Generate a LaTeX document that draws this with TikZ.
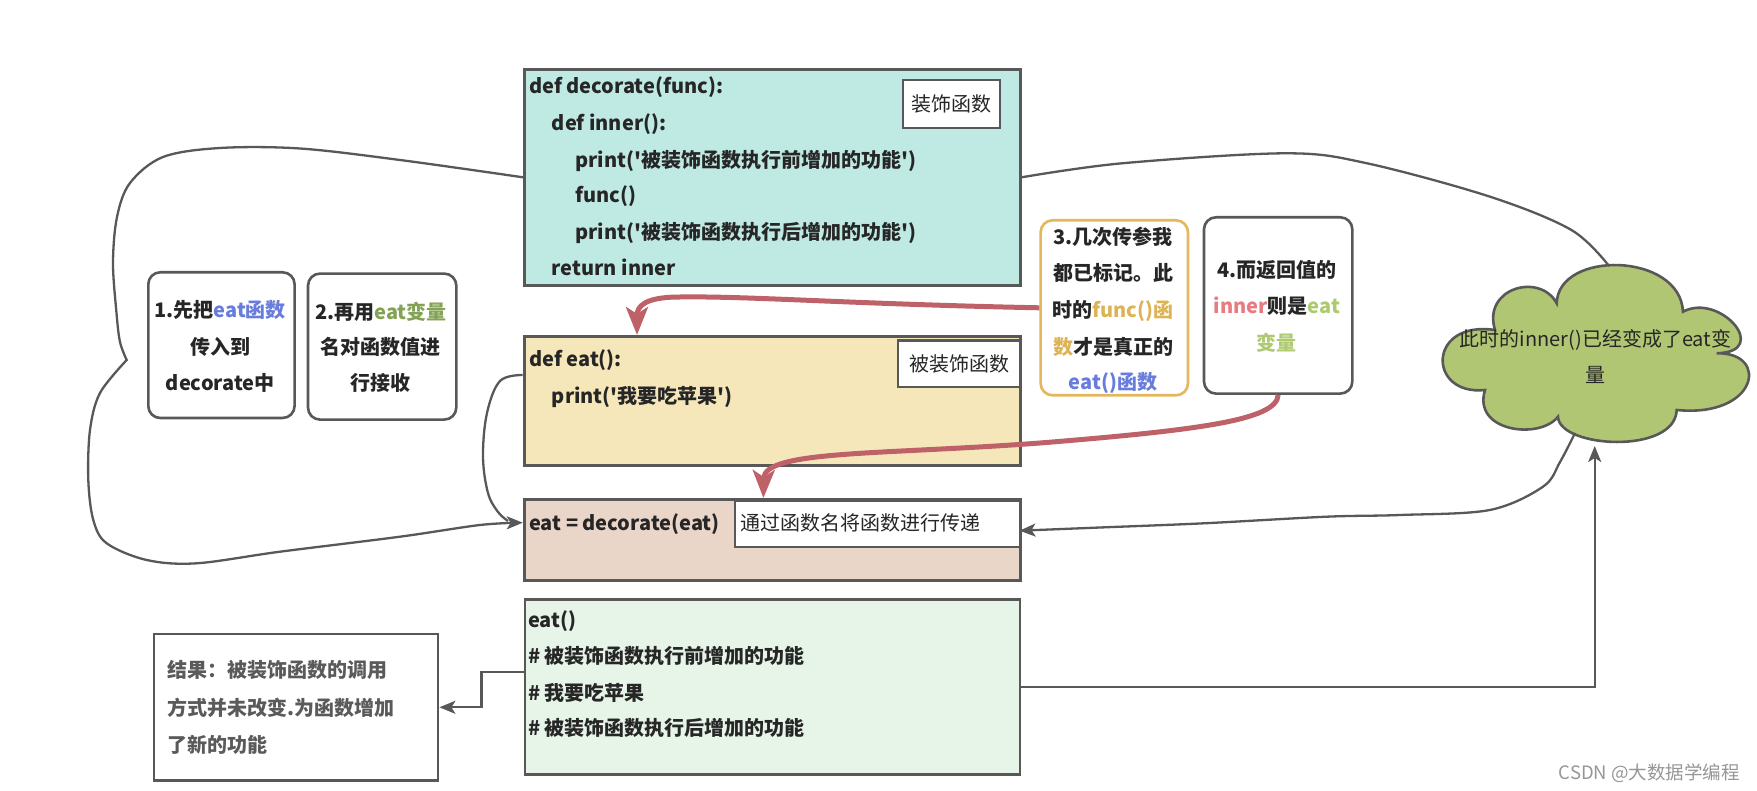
\documentclass[tikz,border=0pt]{standalone}
\usepackage{fontspec}
\setmainfont{Noto Sans CJK SC}[Ligatures=TeXOff]
\usetikzlibrary{arrows.meta}
\definecolor{lc}{RGB}{88,88,88}
\definecolor{txt}{RGB}{38,38,38}
\definecolor{tealf}{RGB}{191,233,227}
\definecolor{yelf}{RGB}{246,231,186}
\definecolor{pinkf}{RGB}{234,213,201}
\definecolor{greenf}{RGB}{231,245,233}
\definecolor{cloudf}{RGB}{177,198,115}
\definecolor{redl}{RGB}{190,97,104}
\definecolor{goldb}{RGB}{228,183,92}
\definecolor{cgold}{RGB}{221,180,85}
\definecolor{cblue}{RGB}{104,124,220}
\definecolor{cgreen}{RGB}{132,162,84}
\definecolor{clgreen}{RGB}{174,202,112}
\definecolor{cpink}{RGB}{232,122,128}
\definecolor{resg}{RGB}{90,90,90}
\definecolor{wm}{RGB}{150,150,150}
\begin{document}
\begin{tikzpicture}[x=1pt,y=-1pt,
  box/.style={draw=lc, line width=2.6pt, inner sep=0pt, anchor=north west},
  lab/.style={draw=lc, fill=white, line width=2.4pt, inner sep=0pt, anchor=north west, font=\fontsize{20}{24}\selectfont, text=txt},
  rbox/.style={draw=lc, fill=white, line width=2.6pt, rounded corners=12pt, inner sep=0pt, anchor=north west},
  cl/.style={inner sep=0pt, text height=17.6pt, text depth=2.4pt, font=\fontsize{20}{24}\selectfont\bfseries, text=txt},
  cw/.style={cl, anchor=west},
  cc/.style={cl, anchor=center},
  gline/.style={draw=lc, line width=2.3pt},
  garrow/.style={-{Stealth[length=16pt,width=13pt,inset=4pt]}},
  rline/.style={draw=redl, line width=5pt},
  rarrow/.style={-{Stealth[length=28pt,width=22pt,inset=7pt]}}
]
\useasboundingbox (0,0) rectangle (1757,791);

% ---- decorate box
\node[box, fill=tealf, minimum width=496pt, minimum height=216pt] (deco) at (523,68) {};
\node[lab, minimum width=97pt, minimum height=48pt] (decolab) at (902,79) {装饰函数};
\node[cw] (d1) at (529,85.7) {def decorate(func):};
\node[cw] (d2) at (551.7,123.3) {def inner():};
\node[cw] (d3) at (575,160) {print('被装饰函数执行前增加的功能')};
\node[cw] (d4) at (575,195) {func()};
\node[cw] (d5) at (575,231.7) {print('被装饰函数执行后增加的功能')};
\node[cw] (d6) at (551.7,268.3) {return inner};

% ---- eat def box
\node[box, fill=yelf, minimum width=496pt, minimum height=129.3pt] (eatdef) at (523,335) {};
\node[lab, minimum width=122pt, minimum height=46.4pt] (eatlab) at (897,339.3) {被装饰函数};
\node[cw] (e1) at (529,359.3) {def eat():};
\node[cw] (e2) at (551.7,396) {print('我要吃苹果')};

% ---- assign box
\node[box, fill=pinkf, minimum width=496pt, minimum height=80.7pt] (assign) at (523,498.3) {};
\node[lab, minimum width=285pt, minimum height=46pt] (passlab) at (734,500) {};
\node[anchor=west, inner sep=0pt, font=\fontsize{20}{24}\selectfont, text=txt] (passtxt) at (740,523) {通过函数名将函数进行传递};
\node[cw] (a1) at (529,522.7) {eat = decorate(eat)};

% ---- call box
\node[box, fill=greenf, minimum width=495pt, minimum height=175pt] (call) at (523.5,598.3) {};
\node[cw] (c1) at (528,620) {eat()};
\node[cw] (c2) at (528,656) {\# 被装饰函数执行前增加的功能};
\node[cw] (c3) at (528,692.7) {\# 我要吃苹果};
\node[cw] (c4) at (528,728.3) {\# 被装饰函数执行后增加的功能};

% ---- result box
\node[box, fill=white, minimum width=284.2pt, minimum height=146.6pt] (result) at (152.6,632.7) {};
\node[cw, text=resg] (res1) at (167.6,670) {结果：被装饰函数的调用};
\node[cw, text=resg] (res2) at (167.6,708.3) {方式并未改变.为函数增加};
\node[cw, text=resg] (res3) at (167.6,745) {了新的功能};

% ---- note boxes
\node[rbox, minimum width=146.3pt, minimum height=145.7pt] (box1) at (147,271) {};
\node[cc] (b1a) at (220.2,310) {1.先把\textcolor{cblue}{eat函数}};
\node[cc] (b1b) at (220.2,347) {传入到};
\node[cc] (b1c) at (220.2,383.3) {decorate中};

\node[rbox, minimum width=148.3pt, minimum height=146pt] (box2) at (306.7,272.3) {};
\node[cc] (b2a) at (380.9,311.5) {2.再用\textcolor{cgreen}{eat变量}};
\node[cc] (b2b) at (380.9,347.3) {名对函数值进};
\node[cc] (b2c) at (380.9,383.3) {行接收};

\node[rbox, draw=goldb, minimum width=147.4pt, minimum height=175pt] (box3) at (1039.3,219) {};
\node[cc] (b3a) at (1113,236.7) {3.几次传参我};
\node[cc] (b3b) at (1113,273.3) {都已标记。此};
\node[cc] (b3c) at (1113,310) {时的\textcolor{cgold}{func()函}};
\node[cc] (b3d) at (1113,346.7) {\textcolor{cgold}{数}才是真正的};
\node[cc] (b3e) at (1113,381.7) {\textcolor{cblue}{eat()函数}};

\node[rbox, minimum width=148.3pt, minimum height=176.3pt] (box4) at (1202.7,216) {};
\node[cc] (b4a) at (1276.9,270) {4.而返回值的};
\node[cc] (b4b) at (1276.9,306) {\textcolor{cpink}{inner}则是\textcolor{clgreen}{eat}};
\node[cc] (b4c) at (1276.9,342.7) {\textcolor{clgreen}{变量}};

% ---- cloud
\draw[draw=lc, fill=cloudf, line width=2.6pt] (1556.7,303.3)
  .. controls (1558,250) and (1680,252) .. (1683,311.7)
  .. controls (1720,292) and (1772,352) .. (1716.7,353.3)
  .. controls (1770,352) and (1758,418) .. (1676.7,410)
  .. controls (1675,455) and (1559,448) .. (1558,416.7)
  .. controls (1540,440) and (1472,432) .. (1485,390)
  .. controls (1427,396) and (1427,320) .. (1495,330)
  .. controls (1482,288) and (1540,272) .. cycle;
\node[inner sep=0pt, font=\fontsize{20}{24}\selectfont, text=txt, text height=17.6pt, text depth=2.4pt] (cl1) at (1595.5,339) {此时的inner()已经变成了eat变};
\node[inner sep=0pt, font=\fontsize{20}{24}\selectfont, text=txt, text height=17.6pt, text depth=2.4pt] (cl2) at (1595.5,375) {量};
\coordinate (cloudtop) at (1609,266);
\coordinate (cloudbl) at (1575,433);
\coordinate (cloudbot) at (1594.7,446);

% ---- connection points
\coordinate (ain) at (522.7,522.7);
\coordinate (aout) at (1019.5,530.7);
\coordinate (yin) at (522.7,375);
\coordinate (inend) at (508,521);
\coordinate (gout) at (523.5,671.7);
\coordinate (r1end) at (637,335);
\coordinate (r2end) at (763.4,498);

% ---- gray connectors
\draw[gline, garrow] plot[smooth, tension=0.55] coordinates {(deco.west) (400,160) (300,148.5) (220,148) (163,157) (130,183) (117,217) (113,263) (116.5,313) (120,342) (126.7,360)}
  -- plot[smooth, tension=0.55] coordinates {(126.7,360) (100,393) (90,430) (88.3,480) (93.3,520) (106.7,543.3) (146.7,560) (196.7,563.3) (280,551.7) (400,536.7) (480,525) (ain)};
\draw[gline] plot[smooth, tension=0.6] coordinates {(yin) (500,381) (487,413) (483,456.7) (488,493) (498,512) (inend)};
\draw[gline] plot[smooth, tension=0.55] coordinates {(deco.east) (1122,163.3) (1285.7,153.3) (1367,163.3) (1490,196.7) (1571.4,230) (cloudtop)};
\draw[gline, garrow] plot[smooth, tension=0.55] coordinates {(cloudbl) (1560,462) (1543,486.7) (1489.8,510) (1400,515) (1326.5,516.7) (1204,523.3) (1100,527.5) (aout)};
\draw[gline, garrow] (call.east) -| (cloudbot);
\draw[gline, garrow] (gout) -- (481.6,671.7) |- (result.east);

% ---- red connectors
\draw[rline, rarrow] (box3.west) .. controls (850,304) and (750,296) .. (680,297) .. controls (645,297) and (637,306) .. (r1end);
\draw[rline, rarrow] (box4.south) .. controls (1277,420) and (1200,430) .. (1040,443) .. controls (880,455) and (764,450) .. (r2end);

% ---- watermark
\node[anchor=east, inner sep=0pt, font=\fontsize{18.5}{22}\selectfont, text=wm] (wmark) at (1740,773) {CSDN @大数据学编程};
\end{tikzpicture}
\end{document}
